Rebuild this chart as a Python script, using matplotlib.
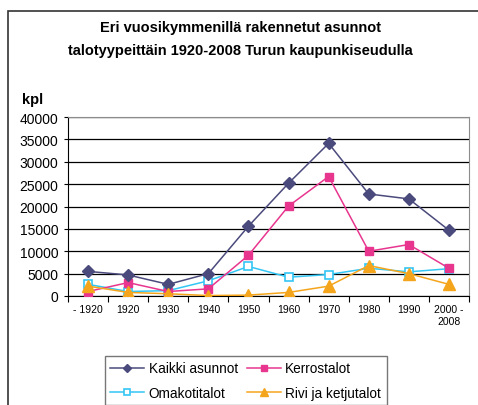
import matplotlib.pyplot as plt
import matplotlib.patches as patches
import numpy as np

plt.rcParams['font.family'] = ['Liberation Sans', 'DejaVu Sans']

vuodet = ['- 1920', '1920', '1930', '1940', '1950', '1960', '1970', '1980', '1990', '2000 -\n2008']
kaikki = [5500, 4700, 2600, 5000, 15600, 25200, 34100, 22800, 21700, 14700]
kerros = [1000, 3000, 1000, 1600, 9100, 20100, 26700, 10000, 11500, 6200]
omakoti = [2600, 1000, 1200, 3400, 6600, 4200, 4800, 6200, 5400, 6100]
rivi = [2200, 800, 500, 100, 200, 800, 2200, 6800, 5000, 2600]

W, H = 478, 406
fig = plt.figure(figsize=(W / 100, H / 100), dpi=100)
ax = fig.add_axes([68 / W, 1 - 297 / H, (469 - 68) / W, (297 - 118) / H])

x = np.arange(len(vuodet))
l1, = ax.plot(x, kaikki, color='#4a4a7c', lw=1.1, marker='D', ms=6, label='Kaikki asunnot', zorder=5)
l2, = ax.plot(x, kerros, color='#e8368f', lw=1.1, marker='s', ms=6, label='Kerrostalot', zorder=4)
l3, = ax.plot(x, omakoti, color='#33c6f4', lw=1.1, marker='s', ms=6, mfc='white', mew=1.2,
              label='Omakotitalot', zorder=3)
l4, = ax.plot(x, rivi, color='#f4a51c', lw=1.1, marker='^', ms=8, label='Rivi ja ketjutalot', zorder=6)

ax.set_xlim(-0.5, len(vuodet) - 0.5)
ax.set_ylim(0, 40000)
ax.set_yticks(np.arange(0, 40001, 5000))
ax.tick_params(axis='y', labelsize=10, length=3, direction='out', pad=4)
ax.grid(axis='y', color='black', lw=0.9)
ax.set_axisbelow(True)

# category labels sit between the boundary ticks
ax.set_xticks(np.arange(-0.5, len(vuodet), 1))
ax.set_xticklabels([])
ax.set_xticks(x, minor=True)
ax.set_xticklabels(vuodet, minor=True, fontsize=7.5, va='top')
ax.tick_params(axis='x', which='major', length=4, direction='out')
ax.tick_params(axis='x', which='minor', length=0, pad=6)

for s in ['top', 'right']:
    ax.spines[s].set_color('#8c8c8c')
for s in ['left', 'bottom']:
    ax.spines[s].set_color('black')

fig.text(240 / W, 1 - 28 / H, 'Eri vuosikymmenillä rakennetut asunnot', ha='center', va='center',
         fontsize=10.5, fontweight='bold')
fig.text(240 / W, 1 - 51 / H, 'talotyypeittäin 1920-2008 Turun kaupunkiseudulla', ha='center', va='center',
         fontsize=10.5, fontweight='bold')
fig.text(33 / W, 1 - 100 / H, 'kpl', ha='center', va='center', fontsize=10.5, fontweight='bold')

# outer chart frame
fig.patches.append(patches.Rectangle((8 / W, -0.1), 1.2, 1.1 - 12 / H, transform=fig.transFigure,
                                     fill=False, ec='#333333', lw=1.2))

# legend filled row by row: ncol=2 fills columns, so interleave
handles = [l1, l3, l2, l4]
leg = fig.legend(handles, [h.get_label() for h in handles], loc='upper left',
                 bbox_to_anchor=(105 / W, 1 - 357 / H), ncol=2, fontsize=9.8, markerscale=0.7,
                 frameon=True, fancybox=False, edgecolor='#555555', borderpad=0.4,
                 handlelength=2.5, columnspacing=0.7, handletextpad=0.3, labelspacing=0.75,
                 borderaxespad=0)
leg.get_frame().set_linewidth(1.0)

fig.savefig('out.png', dpi=100)
